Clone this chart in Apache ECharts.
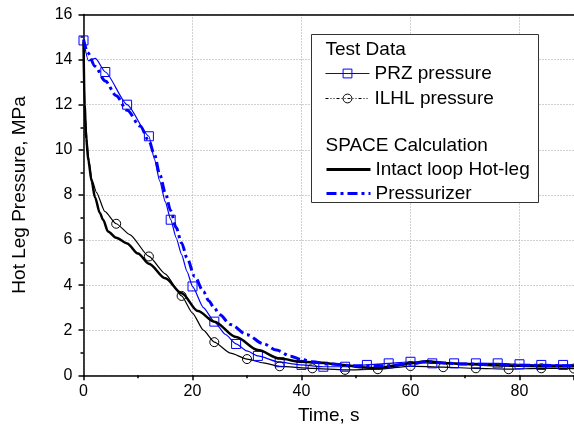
<!DOCTYPE html>
<html>
<head>
<meta charset="utf-8">
<script src="https://cdn.jsdelivr.net/npm/echarts@6/dist/echarts.min.js"></script>
<style>
html, body { margin: 0; padding: 0; background: #fff; }
#chart { width: 574px; height: 435px; }
</style>
</head>
<body>
<div id="chart"></div>
<script>
const FONT = 'Arial, "Liberation Sans", sans-serif'

// Test data: pressurizer (PRZ), squares every 4 s
const przTime = [0, 0.9, 2.2, 4, 8, 12, 13, 14, 15, 16, 17, 18, 19, 20, 22, 24, 26, 28, 30, 32, 36, 40, 44, 48, 52, 56, 60, 64, 68, 72, 76, 80, 84, 88, 90]
const przPres = [14.85, 13.95, 14.05, 13.45, 12.0, 10.6, 9.6, 8.6, 7.7, 6.9, 6.1, 5.35, 4.6, 3.94, 3.0, 2.38, 1.82, 1.39, 1.08, 0.86, 0.58, 0.46, 0.38, 0.38, 0.46, 0.53, 0.6, 0.53, 0.53, 0.53, 0.53, 0.49, 0.46, 0.46, 0.45]

// Test data: intact loop hot leg (ILHL), circles every 6 s
const ilhlTime = [0, 0.3, 0.9, 1.5, 2.4, 3.9, 6, 8.5, 12, 15, 18, 20, 22, 24, 27, 30, 33, 36, 42, 48, 54, 60, 66, 72, 78, 84, 90]
const ilhlPres = [14.8, 11.5, 9.72, 8.7, 8.1, 7.27, 6.72, 6.24, 5.27, 4.5, 3.52, 2.76, 2.0, 1.47, 0.98, 0.72, 0.55, 0.4, 0.31, 0.24, 0.27, 0.41, 0.36, 0.31, 0.27, 0.31, 0.3]

// SPACE calculation: intact loop hot leg
const hlTime = [0, 0.2, 0.5, 0.9, 1.5, 2.1, 3, 3.6, 4.5, 6, 8, 10, 12, 15, 18, 21, 24, 28, 32, 36, 40, 44, 48, 51, 54, 57, 60, 63, 66, 70, 75, 80, 85, 90]
const hlPres = [14.8, 12.0, 10.5, 9.5, 8.6, 7.9, 7.2, 6.9, 6.38, 6.1, 5.85, 5.4, 4.95, 4.3, 3.64, 2.85, 2.38, 1.7, 1.12, 0.74, 0.6, 0.55, 0.45, 0.36, 0.31, 0.42, 0.53, 0.62, 0.55, 0.5, 0.45, 0.42, 0.4, 0.4]

// SPACE calculation: pressurizer
const pzrTime = [0, 0.8, 2.1, 4, 6, 8, 10.4, 12, 13, 14, 15, 16, 17, 18, 19, 20.4, 22, 23, 24, 25, 27, 30, 33, 35.4, 38, 40, 42, 45, 50, 55, 60, 63, 66, 70, 80, 90]
const pzrPres = [14.9, 14.3, 13.7, 13.05, 12.4, 11.75, 11.05, 10.4, 9.8, 8.9, 8.1, 7.3, 6.55, 5.87, 5.2, 4.38, 3.72, 3.3, 2.98, 2.68, 2.25, 1.8, 1.4, 1.12, 0.85, 0.7, 0.6, 0.5, 0.42, 0.42, 0.5, 0.6, 0.55, 0.5, 0.45, 0.42]

function pairs(xs, ys, markEvery) {
  return xs.map((x, i) => {
    const item = { value: [x, ys[i]] }
    if (markEvery && !(x > 0 && x % markEvery === 0) && !(markEvery === 4 && x === 0)) {
      item.symbol = 'none'
    }
    return item
  })
}

const chart = echarts.init(document.getElementById('chart'))

const axisBlack = { color: '#000', width: 1.5 }

chart.setOption({
  animation: false,
  textStyle: { fontFamily: FONT },
  grid: { left: 83.5, right: 0, top: 14.5, bottom: 59.7, containLabel: false, outerBoundsMode: 'none' },
  xAxis: [
    {
      type: 'value',
      min: 0,
      max: 90,
      interval: 20,
      position: 'bottom',
      name: 'Time, s',
      nameLocation: 'middle',
      nameGap: 31,
      nameMoveOverlap: false,
      nameTextStyle: { fontSize: 19, color: '#000', fontFamily: FONT },
      axisLine: { onZero: false, lineStyle: axisBlack },
      axisTick: { length: 5, lineStyle: axisBlack },
      minorTick: { show: true, splitNumber: 2, length: 3, lineStyle: axisBlack },
      axisLabel: { fontSize: 16, color: '#000', margin: 8, showMaxLabel: false, fontFamily: FONT },
      splitLine: { show: true, lineStyle: { color: '#a0a0a0', type: [1, 2], width: 1 } }
    },
    {
      type: 'value',
      min: 0,
      max: 90,
      position: 'top',
      axisLine: { show: true, onZero: false, lineStyle: axisBlack },
      axisTick: { show: false },
      axisLabel: { show: false },
      splitLine: { show: false }
    }
  ],
  yAxis: {
    type: 'value',
    min: 0,
    max: 16,
    interval: 2,
    name: 'Hot Leg Pressure, MPa',
    nameLocation: 'middle',
    nameGap: 54,
    nameMoveOverlap: false,
    nameTextStyle: { fontSize: 19, color: '#000', fontFamily: FONT },
    axisLine: { show: true, onZero: false, lineStyle: axisBlack },
    axisTick: { show: true, length: 5, lineStyle: axisBlack },
    minorTick: { show: true, splitNumber: 2, length: 3, lineStyle: axisBlack },
    axisLabel: { fontSize: 16, color: '#000', margin: 11, fontFamily: FONT },
    splitLine: { show: true, lineStyle: { color: '#a0a0a0', type: [1, 2], width: 1 } }
  },
  graphic: [
    {
      type: 'rect',
      z: 3,
      shape: { x: 311.5, y: 34.5, width: 227, height: 168 },
      style: { fill: '#fff', stroke: '#333', lineWidth: 1 }
    },
    {
      type: 'text',
      z: 5,
      x: 325.5,
      y: 50,
      style: { text: 'Test Data', font: '19px ' + FONT, fill: '#000', verticalAlign: 'middle' }
    },
    {
      type: 'text',
      z: 5,
      x: 325.5,
      y: 146,
      style: { text: 'SPACE Calculation', font: '19px ' + FONT, fill: '#000', verticalAlign: 'middle' }
    }
  ],
  legend: [
    {
      orient: 'vertical',
      left: 325,
      top: 64,
      padding: 0,
      itemWidth: 44,
      itemHeight: 11,
      itemGap: 6,
      selectedMode: false,
      textStyle: { fontSize: 19, color: '#000', fontFamily: FONT },
      data: [
        { name: 'PRZ pressure', itemStyle: { borderWidth: 1 }, lineStyle: { width: 1 } },
        { name: 'ILHL pressure', itemStyle: { borderWidth: 1 }, lineStyle: { width: 1, type: [3, 2, 1, 2, 1, 2] } }
      ]
    },
    {
      orient: 'vertical',
      left: 325,
      top: 160,
      padding: 0,
      itemWidth: 44,
      itemHeight: 11,
      itemGap: 5,
      selectedMode: false,
      textStyle: { fontSize: 19, color: '#000', fontFamily: FONT },
      data: [
        { name: 'Intact loop Hot-leg', itemStyle: { opacity: 0 }, lineStyle: { width: 3 } },
        { name: 'Pressurizer', itemStyle: { opacity: 0 }, lineStyle: { width: 3 } }
      ]
    }
  ],
  series: [
    {
      name: 'ILHL pressure',
      type: 'line',
      data: pairs(ilhlTime, ilhlPres, 6),
      smooth: 0.2,
      smoothMonotone: 'x',
      symbol: 'circle',
      symbolSize: 9,
      showAllSymbol: true,
      lineStyle: { color: '#000', width: 1.2 },
      itemStyle: { color: 'transparent', borderColor: '#000', borderWidth: 1 },
      z: 2
    },
    {
      name: 'PRZ pressure',
      type: 'line',
      data: pairs(przTime, przPres, 4),
      smooth: 0.2,
      smoothMonotone: 'x',
      symbol: 'rect',
      symbolSize: 9,
      showAllSymbol: true,
      lineStyle: { color: '#0000ff', width: 1.2 },
      itemStyle: { color: 'transparent', borderColor: '#0000ff', borderWidth: 1 },
      z: 2
    },
    {
      name: 'Intact loop Hot-leg',
      type: 'line',
      data: pairs(hlTime, hlPres),
      smooth: 0.3,
      smoothMonotone: 'x',
      symbol: 'none',
      lineStyle: { color: '#000', width: 2.5 },
      itemStyle: { color: '#000' },
      z: 3
    },
    {
      name: 'Pressurizer',
      type: 'line',
      data: pairs(pzrTime, pzrPres),
      smooth: 0.3,
      smoothMonotone: 'x',
      symbol: 'none',
      lineStyle: { color: '#0000ff', width: 3, type: [10, 4, 3, 4] },
      itemStyle: { color: '#0000ff' },
      z: 3
    }
  ]
})
</script>
</body>
</html>
